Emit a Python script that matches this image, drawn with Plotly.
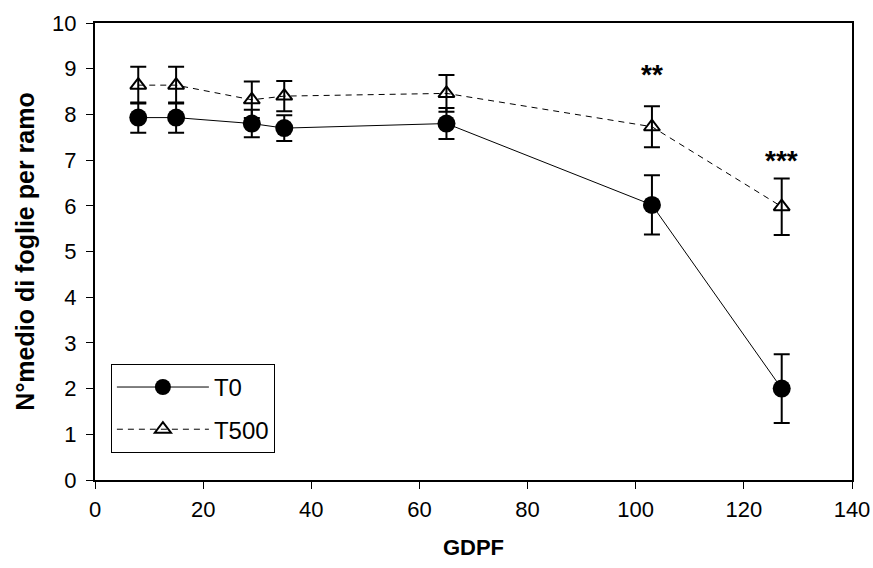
import plotly.graph_objects as go

gdpf = [8, 15, 29, 35, 65, 103, 127]
t0_mean = [7.93, 7.93, 7.80, 7.70, 7.80, 6.02, 2.00]
t0_err = [0.33, 0.33, 0.30, 0.28, 0.34, 0.65, 0.75]
t500_mean = [8.64, 8.64, 8.32, 8.40, 8.46, 7.73, 5.98]
t500_err = [0.40, 0.40, 0.40, 0.33, 0.40, 0.45, 0.62]

sig_x = [103, 127]
sig_y = [8.88, 7.0]
sig_text = ["<b>**</b>", "<b>***</b>"]

FONT = "Liberation Sans, Arial, sans-serif"

fig = go.Figure()
fig.add_trace(go.Scatter(
    x=gdpf, y=t0_mean, name="T0", mode="lines+markers", legendgroup="a",
    line=dict(color="black", width=1),
    marker=dict(symbol="circle", size=18, color="black"),
    error_y=dict(type="data", array=t0_err, color="black", thickness=2, width=8),
))
fig.add_trace(go.Scatter(
    x=gdpf, y=t500_mean, name="T500", mode="lines+markers", legendgroup="b",
    line=dict(color="black", width=1, dash="6px,5px"),
    marker=dict(symbol="triangle-up-open", size=14, color="black", line=dict(width=2, color="black")),
    error_y=dict(type="data", array=t500_err, color="black", thickness=2, width=8),
))

for x, y, t in zip(sig_x, sig_y, sig_text):
    fig.add_annotation(x=x, y=y, text=t, showarrow=False,
                       font=dict(family=FONT, size=28, color="black"))

fig.update_layout(
    width=873, height=568,
    margin=dict(l=95, r=21, t=23, b=88),
    paper_bgcolor="white", plot_bgcolor="white",
    font=dict(family=FONT, size=22, color="black"),
    showlegend=True,
    legend=dict(x=0.021, y=0.254, xanchor="left", yanchor="top",
                bordercolor="black", borderwidth=1, bgcolor="white",
                font=dict(family=FONT, size=24, color="black"),
                itemwidth=92, tracegroupgap=8),
)
fig.update_xaxes(range=[0, 140], dtick=20, tick0=0, showgrid=False, zeroline=False,
                 showline=True, linecolor="black", linewidth=2, mirror=True,
                 ticks="outside", ticklen=7, tickcolor="black", tickwidth=1,
                 ticklabelstandoff=2, automargin=False,
                 title=dict(text="<b>GDPF</b>", font=dict(family=FONT, size=22), standoff=18))
fig.update_yaxes(range=[0, 10], dtick=1, tick0=0, showgrid=False, zeroline=False,
                 showline=True, linecolor="black", linewidth=2, mirror=True,
                 ticks="outside", ticklen=7, tickcolor="black", tickwidth=1,
                 ticklabelstandoff=5, automargin=False,
                 title=dict(text="<b>N°medio di foglie per ramo</b>", font=dict(family=FONT, size=25), standoff=10))

fig.write_html("out.html")
